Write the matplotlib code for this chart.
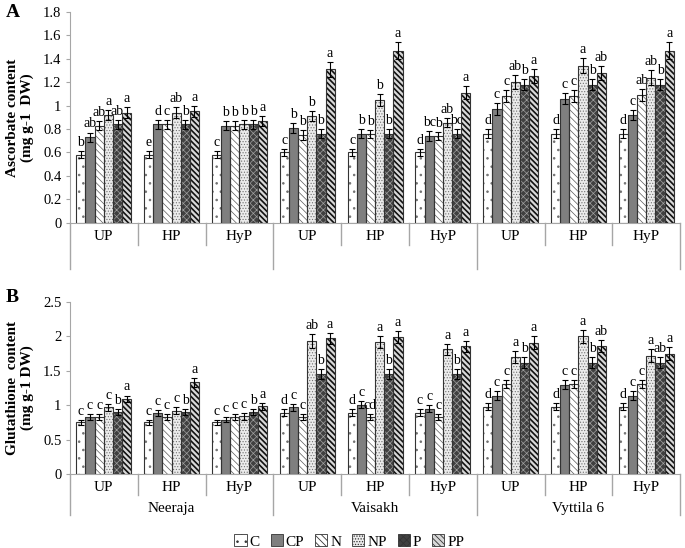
import numpy as np
import matplotlib as mpl
import matplotlib.pyplot as plt
from matplotlib.patches import Patch

plt.rcParams['font.family'] = ['Liberation Serif', 'DejaVu Serif']
plt.rcParams['hatch.linewidth'] = 0.6

treatments = ['C', 'CP', 'N', 'NP', 'P', 'PP']
groups = ['UP', 'HP', 'HyP'] * 3
cultivars = ['Neeraja', 'Vaisakh', 'Vyttila 6']

# ascorbate, rows = group (Neeraja UP..Vyttila HyP), cols = treatment
asc = np.array([
    [0.58, 0.73, 0.83, 0.92, 0.84, 0.94],
    [0.58, 0.84, 0.84, 0.94, 0.84, 0.95],
    [0.58, 0.83, 0.83, 0.84, 0.84, 0.87],
    [0.60, 0.81, 0.75, 0.91, 0.76, 1.31],
    [0.60, 0.76, 0.76, 1.05, 0.76, 1.47],
    [0.60, 0.74, 0.74, 0.855, 0.76, 1.11],
    [0.76, 0.97, 1.08, 1.20, 1.18, 1.25],
    [0.76, 1.06, 1.08, 1.34, 1.18, 1.28],
    [0.76, 0.92, 1.09, 1.24, 1.18, 1.47],
])
asc_err = np.array([
    [0.03, 0.04, 0.04, 0.045, 0.04, 0.045],
    [0.03, 0.04, 0.04, 0.045, 0.04, 0.045],
    [0.03, 0.04, 0.04, 0.04, 0.04, 0.04],
    [0.03, 0.04, 0.04, 0.045, 0.04, 0.065],
    [0.03, 0.04, 0.035, 0.05, 0.04, 0.07],
    [0.03, 0.04, 0.035, 0.04, 0.04, 0.055],
    [0.04, 0.05, 0.05, 0.06, 0.05, 0.06],
    [0.04, 0.05, 0.05, 0.065, 0.05, 0.06],
    [0.04, 0.045, 0.05, 0.06, 0.05, 0.07],
])
asc_letters = [
    ['b', 'ab', 'ab', 'a', 'ab', 'a'],
    ['e', 'd', 'c', 'ab', 'b', 'a'],
    ['c', 'b', 'b', 'b', 'b', 'a'],
    ['c', 'b', 'b', 'b', 'b', 'a'],
    ['c', 'b', 'b', 'b', 'b', 'a'],
    ['d', 'bc', 'b', 'ab', 'bc', 'a'],
    ['d', 'c', 'c', 'ab', 'b', 'a'],
    ['d', 'c', 'c', 'a', 'b', 'ab'],
    ['d', 'c', 'ab', 'ab', 'b', 'a'],
]

# glutathione
glu = np.array([
    [0.75, 0.83, 0.83, 0.97, 0.90, 1.09],
    [0.75, 0.89, 0.83, 0.92, 0.90, 1.33],
    [0.75, 0.79, 0.83, 0.84, 0.90, 0.985],
    [0.89, 0.97, 0.83, 1.93, 1.45, 1.97],
    [0.89, 1.01, 0.83, 1.92, 1.45, 1.99],
    [0.89, 0.95, 0.83, 1.81, 1.45, 1.855],
    [0.98, 1.14, 1.31, 1.70, 1.62, 1.91],
    [0.98, 1.30, 1.31, 2.00, 1.62, 1.86],
    [0.98, 1.14, 1.31, 1.72, 1.62, 1.75],
])
glu_err = np.array([
    [0.04, 0.04, 0.04, 0.05, 0.04, 0.05],
    [0.04, 0.04, 0.04, 0.05, 0.04, 0.07],
    [0.04, 0.04, 0.04, 0.05, 0.04, 0.05],
    [0.05, 0.05, 0.04, 0.10, 0.07, 0.08],
    [0.05, 0.05, 0.04, 0.09, 0.07, 0.09],
    [0.05, 0.05, 0.04, 0.08, 0.07, 0.08],
    [0.05, 0.06, 0.06, 0.09, 0.08, 0.09],
    [0.05, 0.06, 0.06, 0.09, 0.08, 0.09],
    [0.05, 0.06, 0.06, 0.09, 0.08, 0.09],
])
glu_letters = [
    ['c', 'c', 'c', 'c', 'b', 'a'],
    ['c', 'c', 'c', 'c', 'b', 'a'],
    ['c', 'c', 'c', 'c', 'b', 'a'],
    ['d', 'c', 'c', 'ab', 'b', 'a'],
    ['d', 'c', 'cd', 'a', 'b', 'a'],
    ['c', 'c', 'c', 'a', 'b', 'a'],
    ['d', 'c', 'c', 'a', 'b', 'a'],
    ['d', 'c', 'c', 'a', 'b', 'ab'],
    ['d', 'c', 'c', 'a', 'ab', 'a'],
]

# fill, hatch, hatch colour, hatch linewidth per treatment
styles = [
    ('white', '..', '#707070', 0.6),
    ('#7f7f7f', None, '#7f7f7f', 0.6),
    ('white', '\\' * 5, '#5a5a5a', 0.5),
    ('#ececec', '.' * 6, '#707070', 0.5),
    ('#404040', 'x' * 5, '#a0a0a0', 0.5),
    ('#d8d8d8', '\\' * 6, '#111111', 1.2),
]
EDGE = '#333333'
GRID = '#a6a6a6'


def draw_panel(ax, vals, errs, letters, ymax, step, ylabel, minor_len, major_len):
    x = np.arange(len(groups))
    w = 0.135
    for j in range(len(treatments)):
        xs = x + (j - 2.5) * w
        fc, hatch, hc, hlw = styles[j]
        with mpl.rc_context({'hatch.linewidth': hlw}):
            ax.bar(xs, vals[:, j], w, color=fc, hatch=hatch, edgecolor=hc, linewidth=0, zorder=2)
        ax.bar(xs, vals[:, j], w, fill=False, edgecolor=EDGE, linewidth=0.8, zorder=3)
        ax.errorbar(xs, vals[:, j], yerr=errs[:, j], fmt='none', ecolor='black',
                    elinewidth=0.8, capsize=2.2, capthick=0.8, zorder=4)
        for i in range(len(groups)):
            ax.annotate(letters[i][j], (xs[i], vals[i, j] + errs[i, j]),
                        xytext=(0, 1.5), textcoords='offset points',
                        ha='center', va='bottom', fontsize=10)
    ax.set_xlim(-0.5, 8.5)
    ax.set_ylim(0, ymax)
    ticks = np.arange(0, ymax + step / 2, step)
    ax.set_yticks(ticks)
    ax.set_yticklabels([f'{v:g}' for v in ticks], fontsize=10.5)
    ax.set_xticks(x)
    ax.set_xticklabels(groups, fontsize=11)
    ax.tick_params(axis='x', length=0, pad=5)
    ax.tick_params(axis='y', length=3, color=GRID, pad=3)
    for s in ['top', 'right']:
        ax.spines[s].set_visible(False)
    ax.spines['left'].set_color(GRID)
    ax.spines['bottom'].set_color(GRID)
    ax.set_ylabel(ylabel, fontsize=11, fontweight='bold', linespacing=1.2)
    ax.yaxis.set_label_coords(-0.058, 0.5)
    for k in range(10):
        xb = k - 0.5
        ln = major_len if k % 3 == 0 else minor_len
        ax.plot([xb, xb], [0, -ln], transform=ax.get_xaxis_transform(),
                color=GRID, linewidth=1, clip_on=False)


fig = plt.figure(figsize=(6.85, 5.48), dpi=100)
axA = fig.add_axes([0.102, 0.5936, 0.891, 0.3846])
axB = fig.add_axes([0.102, 0.135, 0.891, 0.314])

draw_panel(axA, asc, asc_err, asc_letters, 1.8, 0.2,
           'Ascorbate content\n(mg g-1  DW)', 0.104, 0.218)
draw_panel(axB, glu, glu_err, glu_letters, 2.5, 0.5,
           'Glutathione  content\n(mg g-1 DW)', 0.122, 0.238)

for k, name in enumerate(cultivars):
    axB.annotate(name, (3 * k + 1, 0), xycoords=('data', 'axes fraction'),
                 xytext=(0, -24.5), textcoords='offset points',
                 ha='center', va='center', fontsize=11)

fig.text(0.008, 0.978, 'A', fontsize=14, fontweight='bold', va='center')
fig.text(0.008, 0.458, 'B', fontsize=14, fontweight='bold', va='center')

handles = []
for j, t in enumerate(treatments):
    fc, hatch, hc, hlw = styles[j]
    handles.append(Patch(facecolor=fc, hatch=hatch, edgecolor=EDGE, linewidth=0.6, label=t))
fig.legend(handles=handles, loc='center', bbox_to_anchor=(0.51, 0.012), ncol=6,
           frameon=False, fontsize=11, handlelength=0.8, handleheight=0.8,
           handletextpad=0.2, columnspacing=0.7, borderpad=0)

fig.savefig('out.png', dpi=100)
